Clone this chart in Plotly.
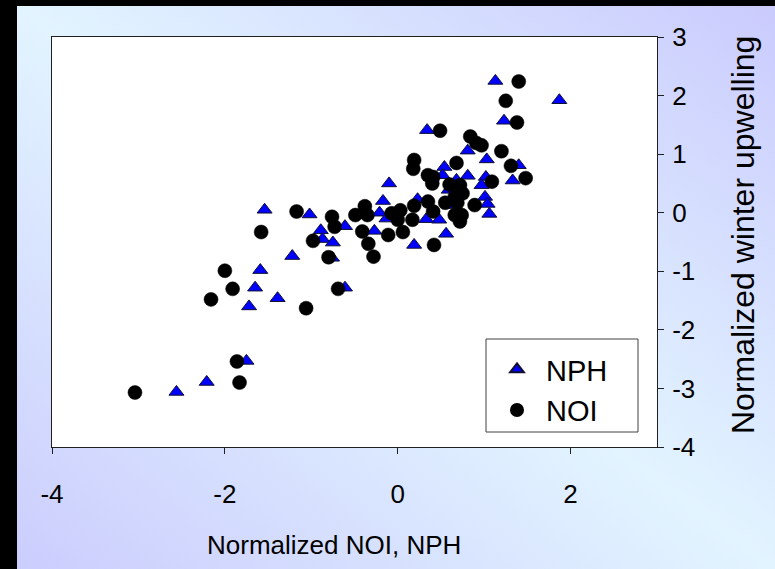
import base64
import plotly.graph_objects as go

# NPH (triangles)
nph_x = [1.13, 1.87, 1.23, 0.34, 0.81, 1.03, 1.40, 0.54, -0.10, 0.81, 0.52, 1.02, 1.33, 0.68, 0.97,
         -0.17, 0.23, 1.01, 1.04, 1.06, -0.21, -0.13, 0.33, 0.48, 0.62, 0.59, -0.61, -0.27, 0.56, 0.19,
         -1.54, -1.02, -0.89, -0.87, -0.75, -1.22, -1.59, -1.65, -1.39, -1.72, -1.75, -2.21, -2.56, -0.61, -0.76]
nph_y = [2.25, 1.92, 1.57, 1.41, 1.06, 0.91, 0.81, 0.78, 0.50, 0.63, 0.64, 0.61, 0.55, 0.56, 0.47,
         0.20, 0.23, 0.27, 0.15, -0.02, 0.00, -0.10, -0.11, -0.12, 0.13, 0.39, -0.23, -0.31, -0.36, -0.55,
         0.05, -0.03, -0.30, -0.45, -0.51, -0.74, -0.98, -1.28, -1.46, -1.60, -2.53, -2.89, -3.06, -1.28, -0.77]

# NOI (circles)
noi_x = [1.40, 1.25, 1.38, 0.49, 0.84, 0.91, 0.97, 1.20, 0.19, 0.18, 0.68, 1.31, 1.48, 0.35, 0.41,
         0.40, 0.60, 0.72, 1.09, 0.75, 0.66, 0.55, 0.69, 0.35, 0.19, 0.03, 0.41, 0.89, -0.38, -0.49,
         -0.35, -0.07, 0.00, 0.17, 0.66, 0.74, 0.72, -0.41, -0.11, 0.06, -0.34, 0.42, -1.17, -0.76, -0.73,
         -1.58, -0.98, -0.80, -2.00, -1.91, -2.16, -1.06, -0.69, -1.86, -1.83, -3.04, -0.28]
noi_y = [2.24, 1.91, 1.54, 1.40, 1.30, 1.19, 1.15, 1.05, 0.90, 0.75, 0.85, 0.80, 0.59, 0.64, 0.61,
         0.50, 0.48, 0.47, 0.53, 0.33, 0.27, 0.17, 0.17, 0.19, 0.12, 0.04, 0.02, 0.13, 0.11, -0.04,
         -0.04, -0.01, -0.12, -0.12, -0.04, -0.04, -0.15, -0.32, -0.38, -0.33, -0.53, -0.55, 0.02, -0.07, -0.24,
         -0.33, -0.48, -0.76, -0.99, -1.30, -1.48, -1.63, -1.30, -2.54, -2.90, -3.07, -0.75]

x_ticks = [-4, -2, 0, 2]
y_ticks = [3, 2, 1, 0, -1, -2, -3, -4]

W, H = 775, 569
L, R, T, B = 52, 118, 37, 122
pw, ph = W - L - R, H - T - B

FONT = "Liberation Sans, Arial, sans-serif"


def px_x(p):
    return (p - L) / pw


def px_y(p):
    return (T + ph - p) / ph


svg = ('<svg xmlns="http://www.w3.org/2000/svg" viewBox="0 0 100 100" preserveAspectRatio="none">'
       '<defs><linearGradient id="g" x1="0" y1="1" x2="1" y2="0">'
       '<stop offset="0" stop-color="#cbcdfd"/><stop offset="0.5" stop-color="#e2f4ff"/>'
       '<stop offset="1" stop-color="#cacbfd"/></linearGradient></defs>'
       '<rect x="0" y="0" width="100" height="100" fill="url(#g)"/></svg>')
src = "data:image/svg+xml;base64," + base64.b64encode(svg.encode()).decode()

fig = go.Figure()
fig.add_trace(go.Scatter(x=nph_x, y=nph_y, mode="markers", name="NPH",
                         marker=dict(symbol="triangle-up", size=13, color="#0000ff",
                                     line=dict(color="#101030", width=1))))
fig.add_trace(go.Scatter(x=noi_x, y=noi_y, mode="markers", name="NOI",
                         marker=dict(symbol="circle", size=14, color="#000000",
                                     line=dict(color="#000000", width=0.5))))

# background image covering the area right/below the black frame strips
fig.add_layout_image(dict(source=src, xref="paper", yref="paper", x=px_x(17), y=px_y(6),
                          sizex=(W - 17) / pw, sizey=(H - 6) / ph,
                          xanchor="left", yanchor="top", sizing="stretch", layer="below"))
fig.add_shape(type="rect", xref="paper", yref="paper", x0=0, x1=1, y0=0, y1=1,
              fillcolor="white", line=dict(width=0), layer="below")
# legend box
fig.add_shape(type="rect", xref="paper", yref="paper", x0=px_x(486), x1=px_x(638),
              y0=px_y(432), y1=px_y(339), fillcolor="white",
              line=dict(color="#404040", width=1), layer="above")

fig.update_layout(
    width=W, height=H,
    margin=dict(l=L, r=R, t=T, b=B),
    paper_bgcolor="#000000",
    plot_bgcolor="rgba(0,0,0,0)",
    font=dict(family=FONT, size=26, color="#000000"),
    showlegend=True,
    legend=dict(x=px_x(486), y=px_y(344), xanchor="left", yanchor="top",
                bgcolor="rgba(0,0,0,0)", borderwidth=0,
                font=dict(family=FONT, size=29, color="#000000"),
                itemwidth=48, indentation=2, tracegroupgap=0, itemsizing="constant"),
    xaxis=dict(range=[-4, 3], tickvals=x_ticks, ticktext=[str(v) for v in x_ticks],
               showgrid=False, zeroline=False, showline=True, mirror=True,
               linecolor="#202020", linewidth=1, ticks="outside", ticklen=6,
               tickcolor="#202020", ticklabelstandoff=18, tickfont=dict(size=26)),
    yaxis=dict(range=[-4, 3], tickvals=y_ticks, ticktext=[str(v) for v in y_ticks],
               side="right", showgrid=False, zeroline=False, showline=True, mirror=True,
               linecolor="#202020", linewidth=1, ticks="outside", ticklen=6,
               tickcolor="#202020", ticklabelstandoff=3, tickfont=dict(size=26)),
    annotations=[
        dict(text="Normalized NOI, NPH", xref="paper", yref="paper",
             x=px_x(334), y=px_y(545), xanchor="center", yanchor="middle",
             showarrow=False, font=dict(family=FONT, size=26, color="#000000")),
        dict(text="Normalized winter upwelling", xref="paper", yref="paper",
             x=px_x(743), y=px_y(235), xanchor="center", yanchor="middle",
             textangle=-90, showarrow=False, font=dict(family=FONT, size=32, color="#000000")),
    ],
)

fig.write_html("out.html", config={"displayModeBar": False},
               post_script="document.body.style.margin='0';document.body.style.overflow='hidden';")
